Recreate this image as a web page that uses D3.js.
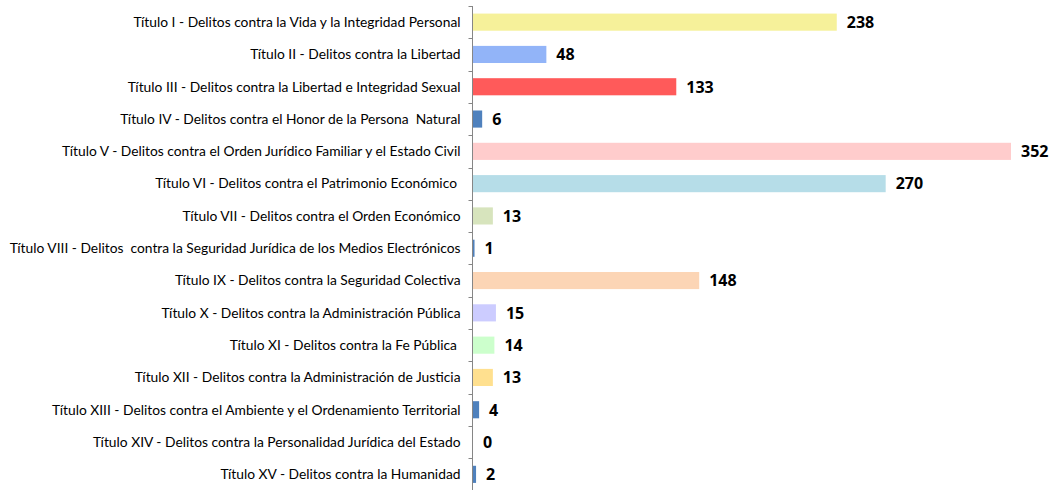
<!DOCTYPE html>
<html>
<head>
<meta charset="utf-8">
<script src="https://cdn.jsdelivr.net/npm/d3@7"></script>
<style>
    body { margin: 0; background: #ffffff; }
    svg { display: block; }
</style>
</head>
<body>
<div id="chart"></div>
<script>
    const categories = [
        'Título I - Delitos contra la Vida y la Integridad Personal',
        'Título II - Delitos contra la Libertad',
        'Título III - Delitos contra la Libertad e Integridad Sexual',
        'Título IV - Delitos contra el Honor de la Persona  Natural',
        'Título V - Delitos contra el Orden Jurídico Familiar y el Estado Civil',
        'Título VI - Delitos contra el Patrimonio Económico ',
        'Título VII - Delitos contra el Orden Económico',
        'Título VIII - Delitos  contra la Seguridad Jurídica de los Medios Electrónicos',
        'Título IX - Delitos contra la Seguridad Colectiva',
        'Título X - Delitos contra la Administración Pública',
        'Título XI - Delitos contra la Fe Pública ',
        'Título XII - Delitos contra la Administración de Justicia',
        'Título XIII - Delitos contra el Ambiente y el Ordenamiento Territorial',
        'Título XIV - Delitos contra la Personalidad Jurídica del Estado',
        'Título XV - Delitos contra la Humanidad'
    ];

    const values = [238, 48, 133, 6, 352, 270, 13, 1, 148, 15, 14, 13, 4, 0, 2];

    const barColors = [
        '#f6f19a', '#92b4f8', '#ff5a5a', '#4f81bd', '#ffcccc',
        '#b6dde8', '#d7e4bd', '#4f81bd', '#fcd5b5', '#ccccff',
        '#ccffcc', '#ffe08f', '#4f81bd', '#4f81bd', '#4f81bd'
    ];

    let width = 1057,
        height = 490,
        margin = {top: 6, right: 0, bottom: 0, left: 473};

    let svg = d3.select('#chart')
        .append('svg')
        .attr('width', width)
        .attr('height', height);

    // 1.528 px per unit
    let x = d3.scaleLinear()
        .domain([0, 352])
        .range([margin.left, margin.left + 538]);

    let y = d3.scaleBand()
        .domain(categories)
        .range([margin.top, 490.5])
        .paddingInner(0.47)
        .paddingOuter(0.235);

    // Bars
    svg.selectAll('.bar')
        .data(values)
        .enter()
        .append('rect')
        .attr('class', 'bar')
        .attr('x', x(0))
        .attr('y', function(d, i) { return y(categories[i]); })
        .attr('width', function(d) { return x(d) - x(0); })
        .attr('height', y.bandwidth())
        .attr('fill', function(d, i) { return barColors[i]; });

    // Value labels
    svg.selectAll('.value')
        .data(values)
        .enter()
        .append('text')
        .attr('class', 'value')
        .attr('x', function(d) { return x(d) + 10; })
        .attr('y', function(d, i) { return y(categories[i]) + y.bandwidth() / 2; })
        .attr('dy', '0.36em')
        .style('font-family', '"Open Sans", sans-serif')
        .style('font-weight', 'bold')
        .style('font-size', '16px')
        .style('fill', '#000000')
        .text(function(d) { return d; });

    // Category axis, ticks between the bands
    let axisX = margin.left - 0.5;
    let step = y.step();
    let bounds = d3.range(categories.length + 1).map(function(i) {
        return margin.top + i * step;
    });

    svg.append('line')
        .attr('x1', axisX)
        .attr('x2', axisX)
        .attr('y1', margin.top)
        .attr('y2', height)
        .style('stroke', '#868686')
        .style('stroke-width', 1);

    svg.selectAll('.tick')
        .data(bounds)
        .enter()
        .append('line')
        .attr('class', 'tick')
        .attr('x1', axisX - 4)
        .attr('x2', axisX)
        .attr('y1', function(d) { return Math.round(d) + 0.5; })
        .attr('y2', function(d) { return Math.round(d) + 0.5; })
        .style('stroke', '#868686')
        .style('stroke-width', 1);

    let labels = svg.selectAll('.cat')
        .data(categories)
        .enter()
        .append('text')
        .attr('class', 'cat')
        .attr('x', axisX - 12)
        .attr('y', function(d) { return y(d) + y.bandwidth() / 2; })
        .attr('dy', '0.35em')
        .attr('text-anchor', 'end')
        .style('font-family', 'Lato, sans-serif')
        .style('font-size', '13px')
        .style('fill', '#000000')
        .style('white-space', 'pre')
        .text(function(d) { return d; });

    // Size the labels so the longest one spans about 451px, as in the picture
    let longest = d3.max(labels.nodes(), function(n) { return n.getComputedTextLength(); });
    let fontSize = 13 * 451 / longest;
    labels.style('font-size', fontSize.toFixed(2) + 'px');
</script>
</body>
</html>
